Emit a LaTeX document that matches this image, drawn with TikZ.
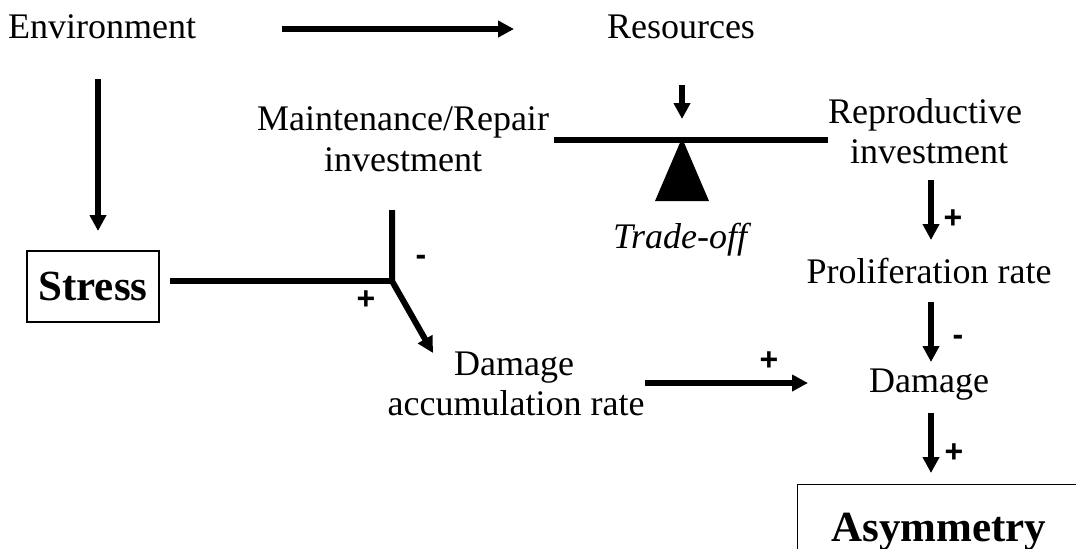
\documentclass[tikz,border=0pt]{standalone}
\usepackage{fontspec}
\setmainfont{Liberation Serif}
\newfontfamily\signfont{Liberation Sans}
\usetikzlibrary{arrows.meta}
\tikzset{
  lbl/.style={font=\fontsize{18}{21}\selectfont, inner sep=0pt, anchor=base},
  itl/.style={font=\fontsize{18}{21}\selectfont\itshape, inner sep=0pt, anchor=base},
  bigl/.style={font=\fontsize{21.5}{25}\selectfont\bfseries, inner sep=0pt},
  sign/.style={font=\signfont\bfseries\fontsize{16}{18}\selectfont, inner sep=0pt},
  arr/.style={line width=3pt, -{Triangle[length=8pt,width=8pt]}},
  bar/.style={line width=3pt},
  boxed/.style={draw, line width=0.7pt, inner sep=0pt}
}
\begin{document}
\begin{tikzpicture}[x=0.5pt,y=-0.5pt]
\useasboundingbox (0,0) rectangle (1076,548);
\clip (0,0) rectangle (1076,548);
% text nodes
\node[lbl] (env) at (102,38) {Environment};
\node[lbl] (res) at (681,38) {Resources};
\node[lbl] (maint1) at (403,130) {Maintenance/Repair};
\node[lbl] (maint2) at (403,171) {investment};
\node[lbl] (repro1) at (925,123) {Reproductive};
\node[lbl] (repro2) at (929,163) {investment};
\node[itl] (trade) at (680,248) {Trade-off};
\node[boxed, bigl, minimum width=66pt, minimum height=35.5pt] (stress) at (93,286.5) {Stress};
\node[lbl] (dacc1) at (514,375) {Damage};
\node[lbl] (dacc2) at (516,415) {accumulation rate};
\node[lbl] (prolif) at (929,283) {Proliferation rate};
\node[lbl] (damage) at (929,392) {Damage};
\node[boxed, minimum width=160pt, minimum height=60pt, anchor=north west] (asymbox) at (797,484) {};
\node[bigl, anchor=base] (asym) at (939,541) {Asymmetry};
% coordinates
\coordinate (envR) at (282,29);
\coordinate (resL) at (514,29);
\coordinate (envB) at (98,79);
\coordinate (stressT) at (98,231);
\coordinate (resB) at (682,85);
\coordinate (pivot) at (682,119);
\coordinate (barL) at (554,140);
\coordinate (barR) at (828,140);
\coordinate (triA) at (682,138);
\coordinate (triL) at (655,201);
\coordinate (triR) at (709,201);
\coordinate (stressR) at (170,281);
\coordinate (junc) at (392,281);
\coordinate (maintB) at (392,210);
\coordinate (daccT) at (433,353);
\coordinate (daccR) at (645,383);
\coordinate (damL) at (808,383);
\coordinate (reproB) at (931,180);
\coordinate (prolifT) at (931,240);
\coordinate (prolifB) at (931,302);
\coordinate (damT) at (931,362);
\coordinate (damB) at (931,413);
\coordinate (asymT) at (931,473);
% connectors
\draw[arr] (envR) -- (resL);
\draw[arr] (envB) -- (stressT);
\draw[arr] (resB) -- (pivot);
\draw[bar] (barL) -- (barR);
\fill (triA) -- (triL) -- (triR) -- cycle;
\draw[bar] (stressR) -- (junc);
\draw[arr] (maintB) -- (junc) -- (daccT);
\draw[arr] (daccR) -- (damL);
\draw[arr] (reproB) -- (prolifT);
\draw[arr] (prolifB) -- (damT);
\draw[arr] (damB) -- (asymT);
% signs
\node[sign] (s1) at (421,260) {-};
\node[sign] (s2) at (366,300) {+};
\node[sign] (s3) at (769,361) {+};
\node[sign] (s4) at (953,219) {+};
\node[sign] (s5) at (958,340) {-};
\node[sign] (s6) at (954,453) {+};
\end{tikzpicture}
\end{document}
